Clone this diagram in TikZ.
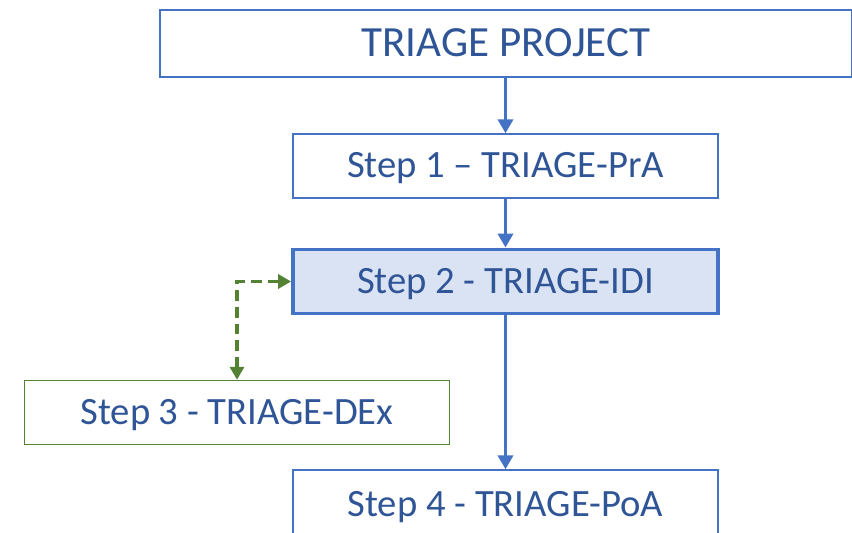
\documentclass[tikz,border=0pt]{standalone}
\usepackage{fontspec}
\setmainfont{Carlito}
\usetikzlibrary{arrows.meta,positioning}
\definecolor{triblue}{HTML}{4472C4}
\definecolor{trifill}{HTML}{DAE3F3}
\definecolor{trigreen}{HTML}{548235}
\definecolor{tritext}{HTML}{2F5597}

\begin{document}
\begin{tikzpicture}[x=0.02cm, y=-0.02cm,
			every node/.style={text=tritext},
			stepbox/.style={draw=triblue, line width=0.8pt, minimum width=8.5cm, minimum height=1.28cm,
				inner sep=0pt, text depth=0.04cm, font=\fontsize{22}{26}\selectfont},
			flow/.style={triblue, line width=2.2pt, -{Triangle[length=0.28cm,width=0.3cm]}},
			side/.style={trigreen, line width=2.2pt, dash pattern=on 6pt off 3.5pt,
				{Triangle[length=0.26cm,width=0.28cm]}-{Triangle[length=0.26cm,width=0.28cm]}}]
			\useasboundingbox (0,0) rectangle (852,533);
			\node[stepbox, minimum width=13.84cm, minimum height=1.34cm, font=\fontsize{24.5}{28}\selectfont] (proj) at (506,43.5) {TRIAGE PROJECT};
			\node[stepbox] (s1) at (505.5,166) {Step 1 -- TRIAGE-PrA};
			\node[stepbox, line width=2.2pt, fill=trifill] (s2) at (505.5,281.5) {Step 2 - TRIAGE-IDI};
			\node[stepbox, draw=trigreen] (s3) at (237,412.5) {Step 3 - TRIAGE-DEx};
			\node[stepbox, minimum height=1.4cm] (s4) at (505.5,505) {Step 4 - TRIAGE-PoA};
			\draw[flow] (proj.south -| s1) -- (s1);
			\draw[flow] (s1) -- (s2);
			\draw[flow] (s2) -- (s4);
			\draw[side] (s3.north) |- (s2.west);
		\end{tikzpicture}
\end{document}
